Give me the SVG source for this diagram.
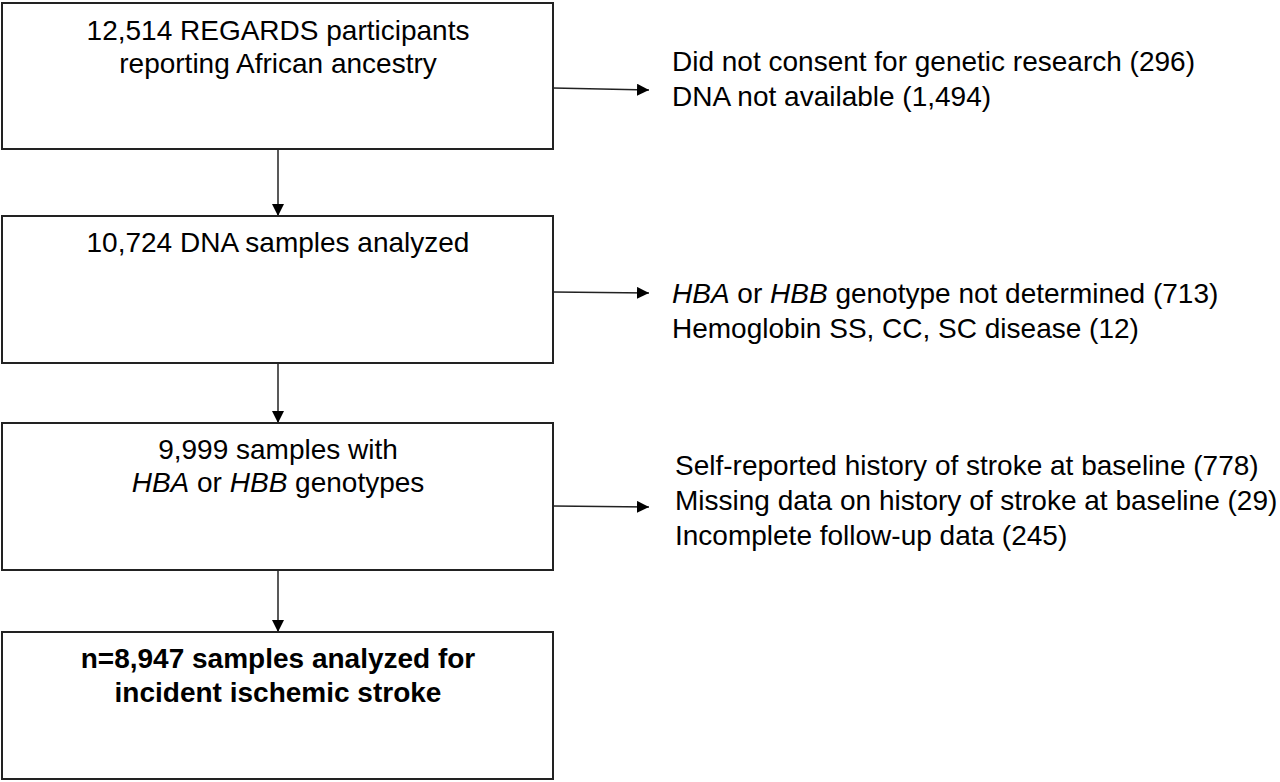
<svg xmlns="http://www.w3.org/2000/svg" width="1280" height="782" viewBox="0 0 1280 782">
<style>
.box{fill:#fff;stroke:#222;stroke-width:2}
text{font-family:"Liberation Sans",Arial,sans-serif;font-size:28px;fill:#000}
.c{text-anchor:middle}
.b{font-weight:bold}
.ln{stroke:#222;stroke-width:1.5;fill:none}
</style>
<defs>
<marker id="ah" viewBox="0 0 12 12" refX="12" refY="6" markerWidth="12" markerHeight="12" markerUnits="userSpaceOnUse" orient="auto">
<path d="M0,0 L12,6 L0,12 Z" fill="#000"/>
</marker>
</defs>
<rect width="1280" height="782" fill="#fff"/>
<g id="connectors">
<line class="ln" x1="278" y1="149" x2="278" y2="216" marker-end="url(#ah)"/>
<line class="ln" x1="278" y1="363" x2="278" y2="423" marker-end="url(#ah)"/>
<line class="ln" x1="278" y1="570" x2="278" y2="632" marker-end="url(#ah)"/>
<line class="ln" x1="553" y1="88" x2="649" y2="90" marker-end="url(#ah)"/>
<line class="ln" x1="553" y1="292" x2="649" y2="293" marker-end="url(#ah)"/>
<line class="ln" x1="553" y1="506" x2="649" y2="507" marker-end="url(#ah)"/>
</g>
<g id="n1">
<rect class="box" x="2" y="3" width="551" height="146"/>
<text class="c" x="278" y="40">12,514 REGARDS participants</text>
<text class="c" x="278" y="73">reporting African ancestry</text>
</g>
<g id="n2">
<rect class="box" x="2" y="216" width="551" height="147"/>
<text class="c" x="278" y="252">10,724 DNA samples analyzed</text>
</g>
<g id="n3">
<rect class="box" x="2" y="423" width="551" height="147"/>
<text class="c" x="278" y="459">9,999 samples with</text>
<text class="c" x="278" y="492"><tspan font-style="italic">HBA</tspan> or <tspan font-style="italic">HBB</tspan> genotypes</text>
</g>
<g id="n4">
<rect class="box" x="2" y="632" width="551" height="147"/>
<text class="c b" x="278" y="668">n=8,947 samples analyzed for</text>
<text class="c b" x="278" y="702">incident ischemic stroke</text>
</g>
<g id="e1">
<text x="672" y="71">Did not consent for genetic research (296)</text>
<text x="672" y="106">DNA not available (1,494)</text>
</g>
<g id="e2">
<text x="672" y="303"><tspan font-style="italic">HBA</tspan> or <tspan font-style="italic">HBB</tspan> genotype not determined (713)</text>
<text x="672" y="338">Hemoglobin SS, CC, SC disease (12)</text>
</g>
<g id="e3">
<text x="675" y="475">Self-reported history of stroke at baseline (778)</text>
<text x="675" y="510">Missing data on history of stroke at baseline (29)</text>
<text x="675" y="545">Incomplete follow-up data (245)</text>
</g>
</svg>
